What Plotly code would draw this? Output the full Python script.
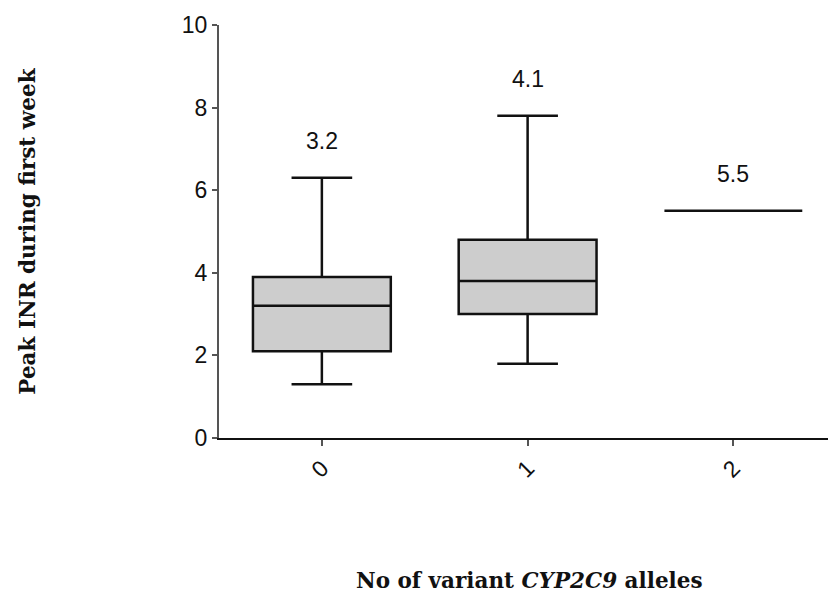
import plotly.graph_objects as go

# Peak INR during first week by number of variant CYP2C9 alleles
categories = ["0", "1", "2"]
lower_whisker = [1.3, 1.8, 5.5]
q1 = [2.1, 3.0, 5.5]
median = [3.2, 3.8, 5.5]
q3 = [3.9, 4.8, 5.5]
upper_whisker = [6.3, 7.8, 5.5]
group_labels = ["3.2", "4.1", "5.5"]

y_ticks = [0, 2, 4, 6, 8, 10]

fig = go.Figure()
fig.add_trace(go.Box(
    x=categories,
    q1=q1,
    median=median,
    q3=q3,
    lowerfence=lower_whisker,
    upperfence=upper_whisker,
    width=0.67,
    fillcolor="#cdcdcd",
    line=dict(color="#111111", width=2.5),
    whiskerwidth=0.44,
    boxpoints=False,
    showlegend=False,
    hoverinfo="skip",
))

for cat, top, txt in zip(categories, upper_whisker, group_labels):
    fig.add_annotation(
        x=cat, y=top, text=txt, showarrow=False,
        yshift=37, yanchor="middle",
        font=dict(family="Liberation Sans, Arial", size=23, color="#111111"),
    )

fig.add_annotation(
    xref="paper", yref="paper", x=0.51, y=-0.345,
    text="<b>No of variant <i>CYP2C9</i> alleles</b>",
    showarrow=False, xanchor="center", yanchor="middle",
    font=dict(family="DejaVu Serif, serif", size=21.5, color="#111111"),
)
fig.add_annotation(
    xref="paper", yref="paper", x=-0.315, y=0.5,
    text="<b>Peak INR during first week</b>", textangle=-90,
    showarrow=False, xanchor="center", yanchor="middle",
    font=dict(family="DejaVu Serif, serif", size=21.5, color="#111111"),
)

fig.update_layout(
    width=828, height=595,
    margin=dict(l=219, r=0, t=25, b=157),
    plot_bgcolor="white", paper_bgcolor="white",
    xaxis=dict(
        type="category", range=[-0.5, 2.46],
        showline=True, linecolor="#111111", linewidth=1.5,
        ticks="outside", ticklen=6, tickwidth=1.5, tickcolor="#555555",
        tickangle=-45, showgrid=False, zeroline=False,
        tickfont=dict(family="Liberation Sans, Arial", size=23, color="#111111"),
    ),
    yaxis=dict(
        range=[0, 10], tickvals=y_ticks,
        showline=True, linecolor="#555555", linewidth=2,
        ticks="outside", ticklen=5, tickwidth=1.5, tickcolor="#555555",
        showgrid=False, zeroline=False,
        tickfont=dict(family="Liberation Sans, Arial", size=23, color="#111111"),
    ),
)

fig.write_html("out.html")
